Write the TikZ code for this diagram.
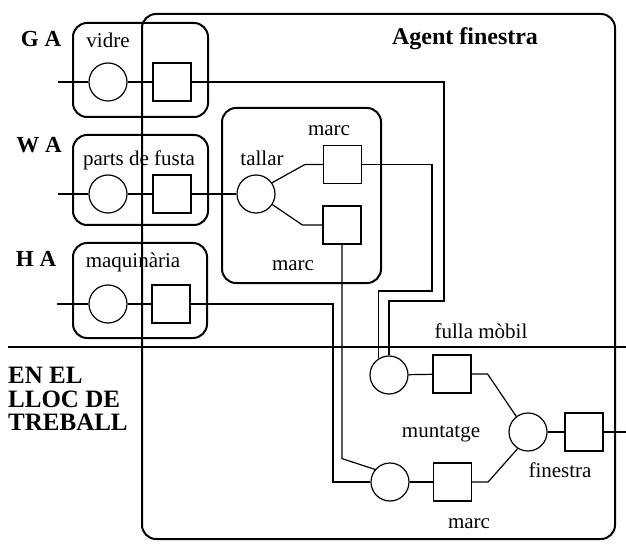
\documentclass[tikz,border=0pt]{standalone}
\usepackage{fontspec}
\setmainfont{Liberation Serif}
\begin{document}
\begin{tikzpicture}[x=1pt,y=-1pt,
  grp/.style={draw, line width=2pt, rounded corners=14pt, inner sep=0pt},
  place/.style={circle, draw, line width=1.2pt, minimum size=38pt, inner sep=0pt},
  trans/.style={rectangle, draw, line width=1.2pt, minimum size=38pt, inner sep=0pt},
  conn/.style={line width=1.2pt},
  lbl/.style={font=\fontsize{21}{24}\selectfont, anchor=base, inner sep=0pt},
  blbl/.style={font=\bfseries\fontsize{23}{26}\selectfont, anchor=base, inner sep=0pt},
  blblw/.style={font=\bfseries\fontsize{25}{23.5}\selectfont, anchor=north west, inner sep=0pt, align=left}
]
\useasboundingbox (0,0) rectangle (626,545);

% group boxes
\node[grp, minimum width=473pt, minimum height=525pt] (agent) at (378.5,276.5) {};
\node[grp, minimum width=135pt, minimum height=94pt] (gabox) at (140.5,70) {};
\node[grp, minimum width=135pt, minimum height=90pt] (wabox) at (140.5,180) {};
\node[grp, minimum width=134pt, minimum height=95pt] (habox) at (140,290.5) {};
\node[grp, minimum width=159pt, minimum height=175pt] (tbox) at (301.5,195.5) {};

% divider
\coordinate (dl) at (8,347);
\coordinate (dr) at (626,347);
\draw[line width=2pt] (dl) -- (dr);

% places and transitions
\node[place] (g1) at (108,82) {};
\node[trans] (g2) at (172,82) {};
\node[place] (w1) at (108,194) {};
\node[trans] (w2) at (172,194) {};
\node[place] (h1) at (108,304) {};
\node[trans] (h2) at (171,304) {};
\node[place] (t1) at (256,194) {};
\node[trans] (s1) at (342.5,164.5) {};
\node[trans] (s2) at (342,225) {};
\node[place] (m1) at (389,375) {};
\node[trans] (m2) at (452,374) {};
\node[place] (b1) at (390,482) {};
\node[trans] (b2) at (452.5,482) {};
\node[place] (f1) at (528,432) {};
\node[trans] (f2) at (584,432) {};

% free ends
\coordinate (gin) at (58,82);
\coordinate (win) at (58,194);
\coordinate (hin) at (57,304);
\coordinate (fout) at (626,432);

% connectors
\draw[conn] (gin) -- (g1) -- (g2);
\draw[conn] (win) -- (w1) -- (w2) -- (t1);
\draw[conn] (hin) -- (h1) -- (h2);
\draw[conn] (t1.35) -- ([xshift=-18pt]s1.west) -- (s1.west);
\draw[conn] (t1.-33) -- ([xshift=-20pt]s2.west) -- (s2.west);
\draw[conn] (g2.east) -| (444,301) -| (m1.north);
\draw[conn] (s1.east) -| (432,291) -| (m1.122);
\draw[conn] (s2.south) -- ++(0,214) -- (b1.140);
\draw[conn] (h2.east) -| (333,482) -- (b1.west);
\draw[conn] (m1) -- (m2);
\draw[conn] (b1) -- (b2);
\draw[conn] (m2.east) -- ([xshift=16pt]m2.east) -- (f1.127);
\draw[conn] (b2.east) -- ([xshift=16pt]b2.east) -- (f1.238);
\draw[conn] (f1) -- (f2) -- (fout);

% labels
\node[blbl] (lga) at (41,47) {G A};
\node[blbl] (lwa) at (39,153) {W A};
\node[blbl] (lha) at (36,266) {H A};
\node[blbl, font=\bfseries\fontsize{24}{26}\selectfont] (lag) at (465,45) {Agent finestra};
\node[blblw] (lloc) at (8,367) {EN EL\\LLOC DE\\TREBALL};
\node[lbl] (lvid) at (108,48) {vidre};
\node[lbl] (lpf) at (139,166) {parts de fusta};
\node[lbl] (lmaq) at (133,268) {maquinària};
\node[lbl] (ltal) at (262,166) {tallar};
\node[lbl] (lm1) at (329,136) {marc};
\node[lbl] (lm2) at (293,270) {marc};
\node[lbl] (lfm) at (481,338) {fulla mòbil};
\node[lbl] (lmun) at (441,437) {muntatge};
\node[lbl] (lfin) at (560,477) {finestra};
\node[lbl] (lm3) at (469,528) {marc};
\end{tikzpicture}
\end{document}
